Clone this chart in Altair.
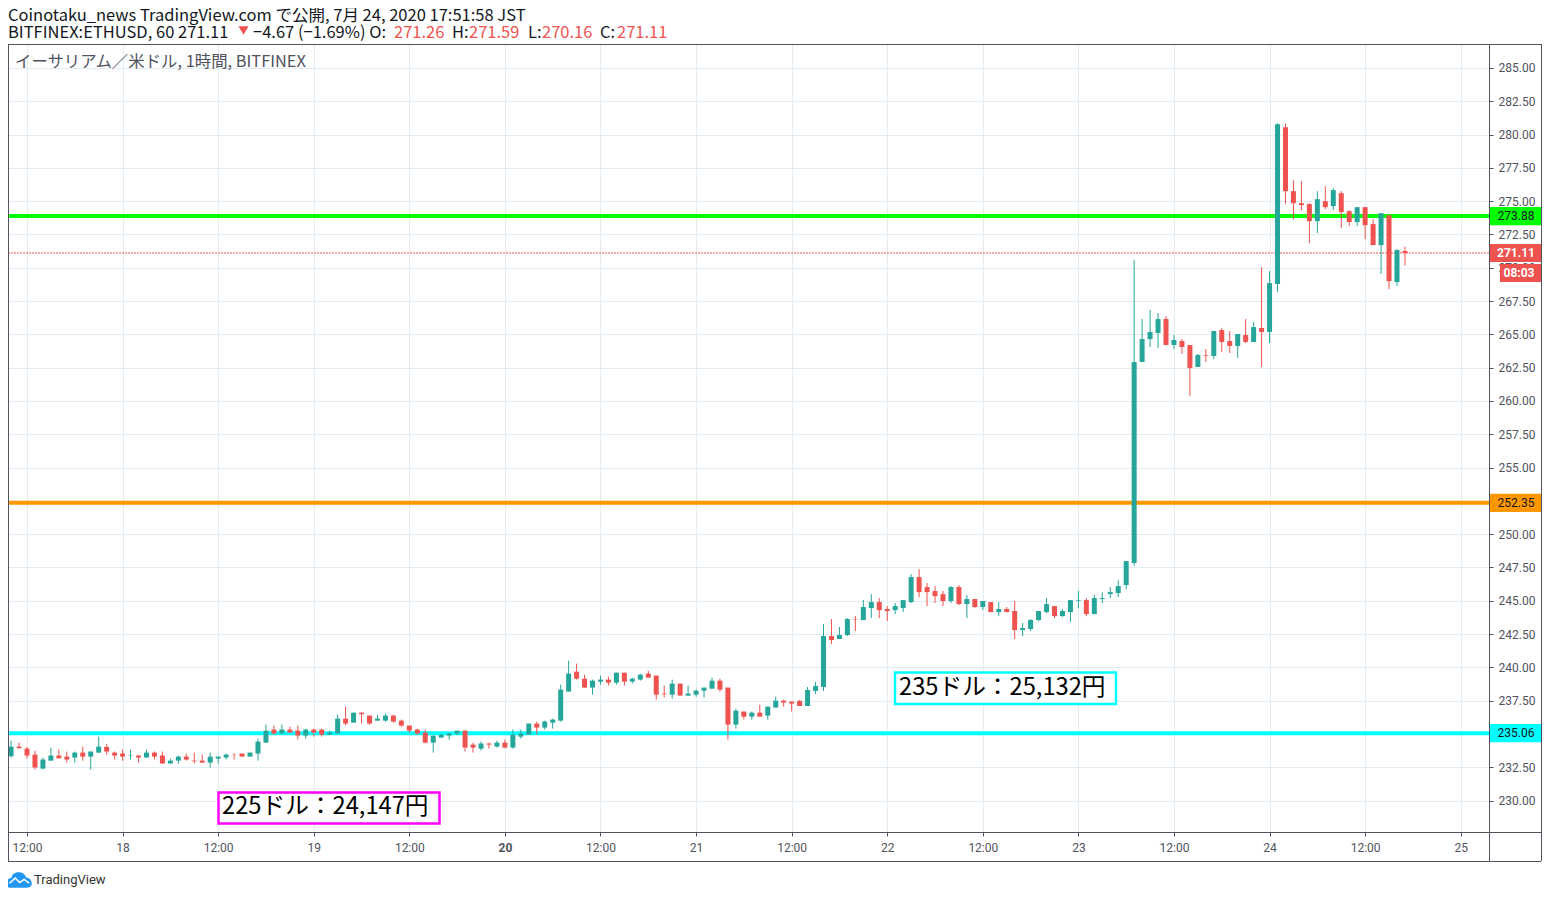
import altair as alt
import pandas as pd

opens = [233.33,234.05,233.90,233.45,232.40,233.00,233.38,233.30,233.23,233.60,
233.30,233.60,234.03,233.60,233.53,233.35,233.38,233.23,233.60,233.38,
232.78,233.00,233.30,233.00,233.00,232.85,233.15,233.23,233.45,233.53,
233.30,233.53,234.35,235.33,235.03,235.33,235.25,234.88,235.33,235.33,
234.95,235.03,236.15,235.85,236.60,236.38,236.00,236.00,236.38,236.00,
235.63,235.33,235.10,234.35,234.73,234.88,235.03,235.25,234.20,233.90,
234.28,234.05,234.35,233.98,234.80,234.95,235.78,235.48,235.85,236.00,
238.18,239.68,239.15,238.48,238.93,239.08,238.85,239.60,238.93,239.08,
239.53,239.38,238.03,237.95,238.78,237.88,237.95,238.25,238.40,239.00,
238.48,235.70,236.68,236.30,236.60,236.38,236.98,237.50,237.43,237.48,
237.10,238.23,238.53,242.35,242.13,242.43,243.63,243.55,244.45,244.90,
244.38,244.30,244.45,244.90,246.78,246.03,245.73,245.50,244.98,246.03,
244.75,245.13,244.53,244.90,244.15,244.38,244.23,242.80,242.88,243.55,
244.15,244.60,243.85,244.15,245.00,245.05,244.00,245.13,245.50,245.58,
246.18,247.83,262.93,264.65,265.10,266.15,264.20,264.50,264.20,262.55,
263.45,263.38,265.33,264.50,264.13,264.95,264.43,265.48,265.18,268.78,
280.55,275.75,274.85,274.78,273.50,275.00,274.63,275.60,274.25,273.43,
274.55,273.28,271.70,273.95,268.93,271.26]

closes = [234.05,233.93,233.38,232.48,233.08,233.38,233.18,233.08,233.60,233.30,
233.68,234.05,233.68,233.38,233.30,233.38,233.23,233.60,233.30,232.78,
233.00,233.30,233.08,232.95,232.85,233.30,233.30,233.45,233.43,233.30,
233.60,234.43,235.25,235.03,235.33,235.10,234.88,235.33,235.10,234.95,
235.10,236.15,235.78,236.60,236.48,235.78,236.15,236.38,235.93,235.63,
235.25,235.03,234.35,234.88,234.95,235.03,235.25,233.98,233.98,234.28,
234.20,234.35,233.98,234.95,235.03,235.78,235.48,235.93,236.08,238.33,
239.53,239.15,238.48,239.00,239.08,238.85,239.60,238.93,239.15,239.45,
239.23,237.95,237.98,238.78,237.88,238.03,238.25,238.48,239.00,238.33,
235.70,236.75,236.30,236.60,236.30,237.05,237.50,237.35,237.28,237.10,
238.30,238.60,242.35,242.05,242.43,243.63,243.60,244.53,244.90,244.30,
244.23,244.60,245.05,246.78,245.65,245.65,245.35,244.98,246.03,244.75,
245.13,244.53,244.98,244.15,244.38,244.15,242.80,242.95,243.55,244.23,
244.75,243.85,244.23,245.05,245.05,244.00,245.20,245.20,245.65,246.10,
247.98,262.93,264.65,265.18,266.15,264.20,264.58,264.05,262.48,263.45,
263.40,265.25,264.43,264.13,265.03,264.43,265.55,265.18,268.85,280.78,
275.75,274.85,274.70,273.50,275.15,274.55,275.83,274.18,273.43,274.55,
273.20,271.70,274.10,269.00,271.33,271.11]

highs = [234.5,234.35,234.03,233.73,233.23,233.98,233.83,233.68,233.68,234.05,
233.68,234.8,234.25,233.68,233.83,233.83,233.43,233.83,233.68,233.68,
233.15,233.38,233.53,233.6,233.45,233.6,233.3,233.53,233.53,233.53,
233.6,234.65,235.7,235.63,235.7,235.55,235.63,235.4,235.4,235.4,
235.25,236.45,237.05,236.6,236.6,236.38,236.45,236.53,236.45,236.08,
235.63,235.4,235.33,234.88,235.03,235.1,235.25,235.25,234.35,234.43,
234.35,234.5,234.58,235.33,235.33,235.78,235.93,236.0,236.15,238.7,
240.5,240.28,239.45,239.08,239.38,239.3,239.6,239.6,239.23,239.53,
239.75,239.38,238.63,239.08,238.78,238.63,238.33,238.48,239.23,239.15,
238.48,236.9,236.68,236.68,237.2,237.05,237.8,237.58,237.43,237.55,
238.53,238.9,243.25,243.63,243.03,243.7,243.85,245.05,245.5,245.2,
244.6,244.83,245.05,247.0,247.38,246.33,246.1,245.73,246.1,246.18,
245.43,245.13,244.98,244.9,244.9,244.53,244.98,243.33,243.63,244.23,
245.2,244.6,244.38,245.05,245.73,245.2,245.43,245.65,246.03,246.55,
247.98,270.58,266.15,266.83,266.6,266.38,264.95,264.65,264.2,263.53,
263.9,265.25,265.48,265.25,265.03,266.15,265.93,270.05,269.75,280.85,
280.85,276.58,276.5,274.85,275.75,276.13,275.98,275.75,274.33,274.55,
274.55,273.65,274.1,273.95,271.4,271.59]

lows = [233.22,233.93,233.15,232.33,232.33,233.0,233.15,232.85,232.85,233.0,
232.33,233.6,233.45,233.08,233.0,233.08,232.85,233.23,233.08,232.78,
232.78,232.78,233.0,232.78,232.85,232.48,232.78,233.08,233.08,233.3,
233.3,233.0,234.35,234.95,235.03,235.1,234.58,234.65,234.8,234.8,
234.95,235.03,235.63,235.85,235.78,235.7,236.0,235.93,235.85,235.55,
235.1,234.95,234.28,233.6,234.73,234.58,234.95,233.68,233.6,233.75,
233.9,233.98,233.93,233.9,234.65,234.95,234.95,235.33,235.4,235.93,
238.18,239.08,238.48,237.95,238.7,238.63,238.7,238.63,238.78,239.0,
239.23,237.58,237.73,237.65,237.88,237.88,237.8,237.73,238.4,238.18,
234.58,235.4,236.08,236.08,236.3,236.08,236.98,237.05,236.68,237.1,
237.1,238.0,238.23,241.75,242.13,242.35,242.73,243.55,243.7,243.7,
243.48,244.0,244.15,244.83,245.28,244.6,244.83,244.6,244.83,244.68,
243.7,244.45,244.3,244.15,243.85,244.15,242.13,242.35,242.73,243.48,
244.08,243.7,243.78,243.4,244.45,243.85,244.0,244.83,245.2,245.28,
245.88,247.63,262.93,264.05,263.98,264.2,263.9,263.53,260.38,262.55,
262.93,263.15,263.68,263.6,263.23,264.35,264.43,262.55,264.35,268.18,
274.78,273.65,274.33,271.85,272.6,274.4,274.33,272.98,273.13,273.13,
272.15,271.7,269.53,268.4,268.63,270.16]

hour_ticks = list(range(0, 181, 12))
hour_labels = ["12:00","18","12:00","19","12:00","20","12:00","21","12:00","22","12:00","23","12:00","24","12:00","25"]
price_ticks = [230+2.5*i for i in range(23)]

level_prices = [273.88, 252.35, 235.06]
level_colors = ["#00ff00", "#ff9800", "#00ffff"]

UP, DOWN = "#26a69a", "#ef5350"
GRID = "#e1ecf3"
FRAME = "#50535e"
JP = "Noto Sans CJK JP"
W, H = 1481, 788
HEAD = 16.5

df = pd.DataFrame({"h": list(range(-2, len(opens)-2)), "o": opens, "hi": highs, "lo": lows, "c": closes})
df["dir"] = ["up" if c >= o else "down" for o, c in zip(opens, closes)]

xs = alt.Scale(domain=[-2.385, 183.55], nice=False, zero=False, padding=0)
ys = alt.Scale(domain=[227.64, 286.80], nice=False, zero=False)
col = alt.Color("dir:N", scale=alt.Scale(domain=["up", "down"], range=[UP, DOWN]), legend=None)

label_js = "[" + ",".join(f"'{l}'" for l in hour_labels) + "][round(datum.value/12)]"
x_axis = alt.Axis(values=hour_ticks, labelExpr=label_js, grid=True, gridColor=GRID, gridWidth=1, domain=False,
                  tickColor=FRAME, tickSize=4, labelColor=FRAME, labelFont="Roboto", labelFontSize=12,
                  labelPadding=6, labelAngle=0, title=None, labelOverlap=False, labelFlush=False,
                  labelFontWeight={"condition": {"test": "datum.value==60", "value": "bold"}, "value": "normal"})
y_axis = alt.Axis(values=price_ticks, format=".2f", orient="right", grid=True, gridColor=GRID, gridWidth=1,
                  domain=False, tickColor=FRAME, tickSize=4, labelColor=FRAME, labelFont="Roboto", labelFontSize=12,
                  labelPadding=5, title=None, labelOverlap=False)


def px(v):
    return v - 8


def py(v):
    return v - 44


def one(**row):
    return alt.Chart(alt.Data(values=[row]))


def label(text, x, y, size, color, font=JP, align="left", weight="normal"):
    return one(t=text).mark_text(font=font, fontSize=size, color=color, align=align, baseline="middle",
                                 fontWeight=weight).encode(x=alt.value(px(x)), y=alt.value(py(y)), text="t:N")


def box(x0, x1, y0, y1, fill, stroke=None, sw=0):
    kw = {"stroke": stroke, "strokeWidth": sw} if stroke else {}
    return one(a=1).mark_rect(fill=fill, **kw).encode(x=alt.value(px(x0)), x2=alt.value(px(x1)),
                                                       y=alt.value(py(y0)), y2=alt.value(py(y1)))


def line(x0, x1, y0, y1):
    return one(a=1).mark_rule(color=FRAME, strokeWidth=1).encode(x=alt.value(px(x0)), x2=alt.value(px(x1)),
                                                                 y=alt.value(py(y0)), y2=alt.value(py(y1)))


Y_LEVEL = alt.Y("p:Q", scale=ys, axis=y_axis)
layers = []
for p, c in zip(level_prices, level_colors):
    layers.append(one(p=p).mark_rule(color=c, strokeWidth=4).encode(y=Y_LEVEL))
layers.append(one(p=closes[-1]).mark_rule(color=DOWN, strokeWidth=1, strokeDash=[2, 1]).encode(y=Y_LEVEL))

wicks = alt.Chart(df).mark_rule(strokeWidth=1).encode(
    x=alt.X("h:Q", scale=xs, axis=x_axis),
    y=alt.Y("lo:Q", scale=ys, axis=y_axis),
    y2="hi:Q", color=col)
bodies = alt.Chart(df).mark_bar(size=5, strokeWidth=0).encode(
    x=alt.X("h:Q", scale=xs, axis=x_axis), y=alt.Y("o:Q", scale=ys, axis=y_axis), y2="c:Q", color=col)
layers += [wicks, bodies]

# frame
layers += [line(8.5, 1541.5, 44.5, 44.5), line(8.5, 8.5, 44, 861), line(1489.5, 1489.5, 44, 861),
           line(1541.5, 1541.5, 44, 861), line(8, 1541, 832.5, 832.5), line(8, 1541, 861.5, 861.5)]

# price tags
for p, c in zip(level_prices, level_colors):
    layers.append(one(p0=p+0.68, p1=p-0.68).mark_rect(fill=c).encode(
        x=alt.value(px(1490)), x2=alt.value(px(1541)),
        y=alt.Y("p0:Q", scale=ys, axis=y_axis), y2="p1:Q"))
    layers.append(one(p=p, t=f"{p:.2f}").mark_text(font="Roboto", fontSize=12, color="#131722", baseline="middle").encode(
        x=alt.value(px(1516)), y=Y_LEVEL, text="t:N"))
layers.append(one(p0=closes[-1]+0.68, p1=closes[-1]-0.68).mark_rect(fill=DOWN).encode(
    x=alt.value(px(1490)), x2=alt.value(px(1541)), y=alt.Y("p0:Q", scale=ys, axis=y_axis), y2="p1:Q"))
layers.append(one(p=closes[-1], t=f"{closes[-1]:.2f}").mark_text(font="Roboto", fontSize=12, color="white", fontWeight="bold", baseline="middle").encode(
    x=alt.value(px(1516)), y=Y_LEVEL, text="t:N"))
layers += [box(1500, 1541, 264, 282, DOWN), label("08:03", 1519, 273, 12, "white", "Roboto", "center", "bold")]

# annotation boxes
layers += [box(218.5, 439.5, 792.5, 823.5, "white", "#ff00ff", 2.5),
           label("225ドル：24,147円", 222, 807, 23.7, "#000000"),
           box(895, 1116, 672.5, 704, "white", "#00ffff", 2.5),
           label("235ドル：25,132円", 899, 688, 23.7, "#000000")]

# header and watermark
layers += [label("Coinotaku_news TradingView.com で公開, 7月 24, 2020 17:51:58 JST", 8, 16, HEAD, "#131722"),
           label("BITFINEX:ETHUSD, 60 271.11", 8, 32.5, HEAD, "#131722"),
           one(a=1).mark_point(shape="triangle-down", filled=True, color=DOWN, size=100, opacity=1).encode(
               x=alt.value(px(243.5)), y=alt.value(py(30.5))),
           label("−4.67 (−1.69%) O:", 253, 32.5, HEAD, "#131722"),
           label("271.26", 394, 32.5, HEAD, DOWN),
           label("H:", 452, 32.5, HEAD, "#131722"),
           label("271.59", 469, 32.5, HEAD, DOWN),
           label("L:", 528, 32.5, HEAD, "#131722"),
           label("270.16", 542, 32.5, HEAD, DOWN),
           label("C:", 600, 32.5, HEAD, "#131722"),
           label("271.11", 617, 32.5, HEAD, DOWN),
           label("イーサリアム／米ドル, 1時間, BITFINEX", 15, 62, 16.4, FRAME)]

# logo
cloud = "M-1,0.4 C-1,0 -0.8,-0.15 -0.6,-0.15 C-0.55,-0.5 -0.2,-0.65 0.1,-0.6 C0.35,-0.55 0.5,-0.35 0.55,-0.2 C0.85,-0.2 1,0.05 1,0.3 C1,0.55 0.8,0.6 0.6,0.6 L-0.7,0.6 C-0.9,0.6 -1,0.5 -1,0.4 Z"
zig = "M-0.75,0.25 L-0.3,-0.15 L0.05,0.2 L0.4,-0.05 L0.8,0.25"
layers += [one(a=1).mark_point(shape=cloud, filled=True, color="#2196f3", size=650, opacity=1).encode(
               x=alt.value(px(19)), y=alt.value(py(880))),
           one(a=1).mark_point(shape=zig, filled=False, color="white", size=650, strokeWidth=1.5, opacity=1).encode(
               x=alt.value(px(19)), y=alt.value(py(880))),
           label("TradingView", 34, 880, 13, "#333333", "Roboto")]

chart = alt.layer(*layers).properties(
    width=W, height=H, background="white",
    padding={"left": 0, "top": 36, "right": 53, "bottom": 58},
    autosize=alt.AutoSizeParams(type="none"),
).configure_view(stroke=None)

chart.save("out.html", embed_options={"renderer": "svg", "actions": False})
